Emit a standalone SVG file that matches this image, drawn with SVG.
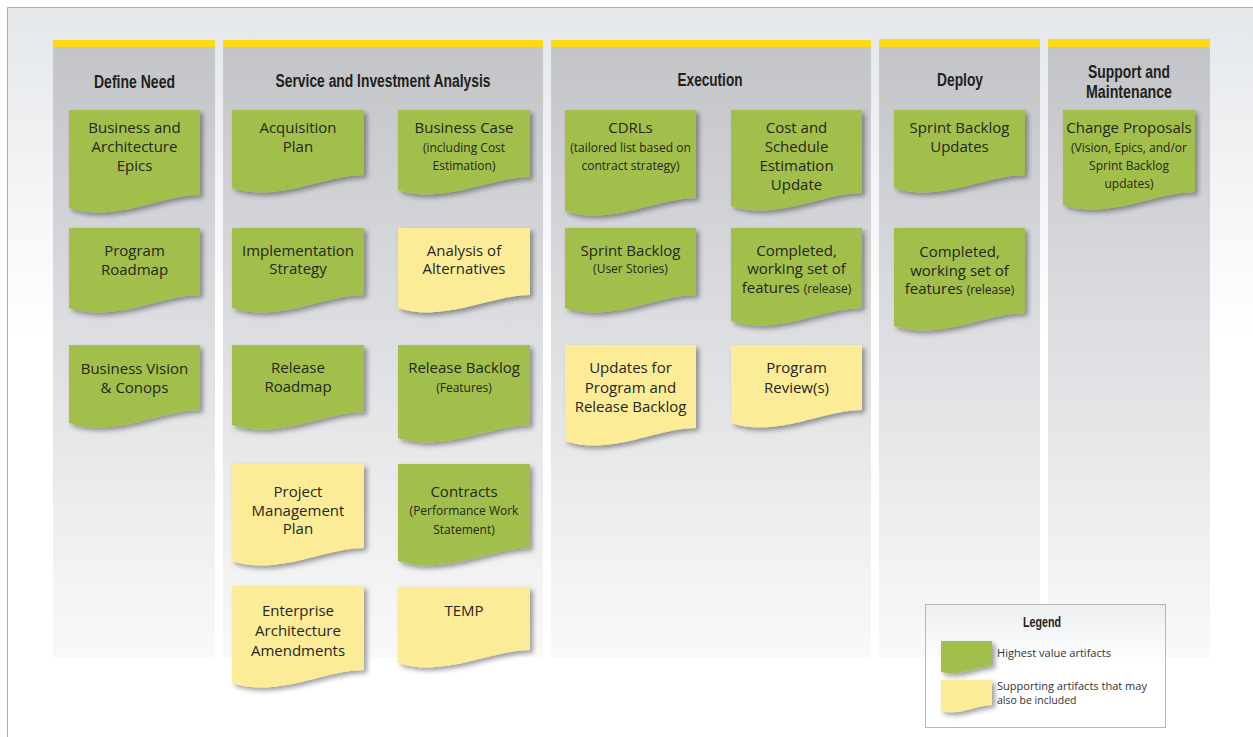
<svg xmlns="http://www.w3.org/2000/svg" width="1253" height="737" viewBox="0 0 1253 737">
<defs>
<linearGradient id="bg" x1="0" y1="0" x2="0" y2="1">
<stop offset="0" stop-color="#e4e7ea"/><stop offset="0.45" stop-color="#ffffff"/><stop offset="1" stop-color="#ffffff"/>
</linearGradient>
<linearGradient id="col" x1="0" y1="0" x2="0" y2="1">
<stop offset="0" stop-color="#c2c4c7"/><stop offset="0.45" stop-color="#dcdde0"/><stop offset="0.85" stop-color="#f2f2f3"/><stop offset="1" stop-color="#f9f9f9"/>
</linearGradient>
<linearGradient id="leg" x1="0" y1="0" x2="0" y2="1">
<stop offset="0" stop-color="#eceef0"/><stop offset="0.5" stop-color="#ffffff"/><stop offset="1" stop-color="#ffffff"/>
</linearGradient>
<filter id="sh" x="-10%" y="-10%" width="130%" height="140%">
<feDropShadow dx="3" dy="3" stdDeviation="2.4" flood-color="#000" flood-opacity="0.38"/>
</filter>
</defs>
<style>
.col{fill:url(#col)}
.bar{fill:#ffd816}
.hd{font-family:"Liberation Sans",Arial,sans-serif;font-weight:bold;font-size:18px;fill:#231f20;text-anchor:middle}
.g{fill:#a2bf4b;filter:url(#sh)}
.y{fill:#fcec98;filter:url(#sh)}
.t{font-family:"Open Sans","Noto Sans",sans-serif;font-size:15px;fill:#26261f;text-anchor:middle}
.s{font-size:12px}
.lt{font-family:"Open Sans","Noto Sans",sans-serif;font-size:10.5px;fill:#333333}
</style>
<rect x="0" y="0" width="1253" height="737" fill="#ffffff"/>
<rect x="7" y="7" width="1246" height="730" fill="url(#bg)"/>
<path d="M7.5,737 V7.5 H1253" fill="none" stroke="#a9abad" stroke-width="1"/>

<g id="columns">
<rect class="col" x="53" y="47" width="162" height="610"/>
<rect class="col" x="223" y="47" width="320" height="610"/>
<rect class="col" x="551" y="47" width="320" height="610"/>
<rect class="col" x="879" y="47" width="161" height="610"/>
<rect class="col" x="1048" y="47" width="162" height="610"/>
<rect class="bar" x="53" y="40" width="162" height="7"/>
<rect class="bar" x="223" y="40" width="320" height="7"/>
<rect class="bar" x="551" y="40" width="320" height="7"/>
<rect class="bar" x="879" y="39" width="161" height="8"/>
<rect class="bar" x="1048" y="39" width="162" height="8"/>
<text class="hd" x="134.5" y="88" textLength="81" lengthAdjust="spacingAndGlyphs">Define Need</text>
<text class="hd" x="383" y="87" textLength="215" lengthAdjust="spacingAndGlyphs">Service and Investment Analysis</text>
<text class="hd" x="710" y="86" textLength="65" lengthAdjust="spacingAndGlyphs">Execution</text>
<text class="hd" x="960" y="86" textLength="46" lengthAdjust="spacingAndGlyphs">Deploy</text>
<text class="hd" x="1129" y="78" textLength="82" lengthAdjust="spacingAndGlyphs">Support and</text>
<text class="hd" x="1129" y="98" textLength="86" lengthAdjust="spacingAndGlyphs">Maintenance</text>
</g>

<g id="connectors"/>

<g id="n-business-arch-epics">
<path class="g" d="M69,110 H200 V195 C160.7,195 114.9,223 69,208 Z"/>
<text class="t" x="134.5" y="133">Business and</text>
<text class="t" x="134.5" y="152">Architecture</text>
<text class="t" x="134.5" y="171">Epics</text>
</g>
<g id="n-program-roadmap">
<path class="g" d="M69,228 H200 V295 C160.7,295 114.9,323 69,308 Z"/>
<text class="t" x="134.5" y="256">Program</text>
<text class="t" x="134.5" y="275">Roadmap</text>
</g>
<g id="n-business-vision">
<path class="g" d="M69,345 H200 V410 C160.7,410 114.9,438 69,423 Z"/>
<text class="t" x="134.5" y="374">Business Vision</text>
<text class="t" x="134.5" y="393">&amp; Conops</text>
</g>

<g id="n-acquisition-plan">
<path class="g" d="M232,110 H364 V175 C324.4,175 278.2,203 232,188 Z"/>
<text class="t" x="298" y="133">Acquisition</text>
<text class="t" x="298" y="152">Plan</text>
</g>
<g id="n-implementation-strategy">
<path class="g" d="M232,228 H364 V295 C324.4,295 278.2,323 232,308 Z"/>
<text class="t" x="298" y="256">Implementation</text>
<text class="t" x="298" y="274">Strategy</text>
</g>
<g id="n-release-roadmap">
<path class="g" d="M232,345 H364 V412 C324.4,412 278.2,440 232,425 Z"/>
<text class="t" x="298" y="373">Release</text>
<text class="t" x="298" y="392">Roadmap</text>
</g>
<g id="n-project-mgmt-plan">
<path class="y" d="M232,464 H364 V548 C324.4,548 278.2,576 232,561 Z"/>
<text class="t" x="298" y="497">Project</text>
<text class="t" x="298" y="516">Management</text>
<text class="t" x="298" y="534">Plan</text>
</g>
<g id="n-enterprise-arch">
<path class="y" d="M232,586 H364 V670 C324.4,670 278.2,698 232,683 Z"/>
<text class="t" x="298" y="616">Enterprise</text>
<text class="t" x="298" y="636">Architecture</text>
<text class="t" x="298" y="656">Amendments</text>
</g>

<g id="n-business-case">
<path class="g" d="M398,110 H530 V177 C490.4,177 444.2,205 398,190 Z"/>
<text class="t" x="464" y="133">Business Case</text>
<text class="t s" x="464" y="152">(including Cost</text>
<text class="t s" x="464" y="170">Estimation)</text>
</g>
<g id="n-analysis-alternatives">
<path class="y" d="M398,228 H530 V295 C490.4,295 444.2,323 398,308 Z"/>
<text class="t" x="464" y="256">Analysis of</text>
<text class="t" x="464" y="274">Alternatives</text>
</g>
<g id="n-release-backlog">
<path class="g" d="M398,345 H530 V425 C490.4,425 444.2,453 398,438 Z"/>
<text class="t" x="464" y="373">Release Backlog</text>
<text class="t s" x="464" y="392">(Features)</text>
</g>
<g id="n-contracts">
<path class="g" d="M398,464 H530 V548 C490.4,548 444.2,576 398,561 Z"/>
<text class="t" x="464" y="497">Contracts</text>
<text class="t s" x="464" y="515">(Performance Work</text>
<text class="t s" x="464" y="534">Statement)</text>
</g>
<g id="n-temp">
<path class="y" d="M398,587 H530 V650 C490.4,650 444.2,678 398,663 Z"/>
<text class="t" x="464" y="616">TEMP</text>
</g>

<g id="n-cdrls">
<path class="g" d="M565,110 H696 V198 C656.7,198 610.9,226 565,211 Z"/>
<text class="t" x="630.5" y="133">CDRLs</text>
<text class="t s" x="630.5" y="152">(tailored list based on</text>
<text class="t s" x="630.5" y="170">contract strategy)</text>
</g>
<g id="n-sprint-backlog">
<path class="g" d="M565,228 H696 V295 C656.7,295 610.9,323 565,308 Z"/>
<text class="t" x="630.5" y="256">Sprint Backlog</text>
<text class="t s" x="630.5" y="273">(User Stories)</text>
</g>
<g id="n-updates-backlog">
<path class="y" d="M565,345 H696 V428 C656.7,428 610.9,456 565,441 Z"/>
<text class="t" x="630.5" y="373">Updates for</text>
<text class="t" x="630.5" y="393">Program and</text>
<text class="t" x="630.5" y="412">Release Backlog</text>
</g>

<g id="n-cost-schedule">
<path class="g" d="M731,110 H862 V193 C822.7,193 776.9,221 731,206 Z"/>
<text class="t" x="796.5" y="133">Cost and</text>
<text class="t" x="796.5" y="152">Schedule</text>
<text class="t" x="796.5" y="171">Estimation</text>
<text class="t" x="796.5" y="190">Update</text>
</g>
<g id="n-completed-exec">
<path class="g" d="M731,228 H862 V308 C822.7,308 776.9,336 731,321 Z"/>
<text class="t" x="796.5" y="256">Completed,</text>
<text class="t" x="796.5" y="274">working set of</text>
<text class="t" x="796.5" y="293">features <tspan class="s">(release)</tspan></text>
</g>
<g id="n-program-reviews">
<path class="y" d="M731,345 H862 V410 C822.7,410 776.9,438 731,423 Z"/>
<text class="t" x="796.5" y="373">Program</text>
<text class="t" x="796.5" y="393">Review(s)</text>
</g>

<g id="n-sprint-backlog-updates">
<path class="g" d="M894,110 H1025 V175 C985.7,175 939.9,203 894,188 Z"/>
<text class="t" x="959.5" y="133">Sprint Backlog</text>
<text class="t" x="959.5" y="152">Updates</text>
</g>
<g id="n-completed-deploy">
<path class="g" d="M894,228 H1025 V313 C985.7,313 939.9,341 894,326 Z"/>
<text class="t" x="959.5" y="257">Completed,</text>
<text class="t" x="959.5" y="276">working set of</text>
<text class="t" x="959.5" y="294">features <tspan class="s">(release)</tspan></text>
</g>

<g id="n-change-proposals">
<path class="g" d="M1063,110 H1195 V192 C1155.4,192 1109.2,220 1063,205 Z"/>
<text class="t" x="1129" y="133">Change Proposals</text>
<text class="t s" x="1129" y="152">(Vision, Epics, and/or</text>
<text class="t s" x="1129" y="170">Sprint Backlog</text>
<text class="t s" x="1129" y="188">updates)</text>
</g>

<g id="legend">
<rect x="925.5" y="604.5" width="240" height="123" fill="url(#leg)" stroke="#b5b7b9" stroke-width="1"/>
<text class="hd" x="1042" y="627" style="font-size:14px" textLength="38" lengthAdjust="spacingAndGlyphs">Legend</text>
<path class="g" d="M941,641 H992 V666 C976.7,666 958.9,677 941,672 Z"/>
<text class="lt" x="997" y="657" textLength="114" lengthAdjust="spacingAndGlyphs">Highest value artifacts</text>
<path class="y" d="M941,680 H992 V705 C976.7,705 958.9,716 941,711 Z"/>
<text class="lt" x="997" y="690" textLength="150" lengthAdjust="spacingAndGlyphs">Supporting artifacts that may</text>
<text class="lt" x="997" y="703.5">also be included</text>
</g>
</svg>
